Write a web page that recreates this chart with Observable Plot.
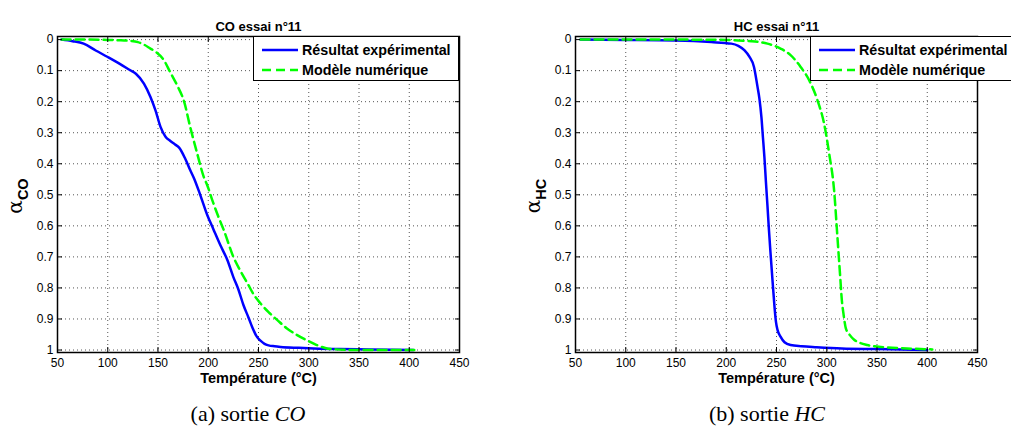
<!DOCTYPE html>
<html>
<head>
<meta charset="utf-8">
<script src="https://cdn.jsdelivr.net/npm/d3@7"></script>
<script src="https://cdn.jsdelivr.net/npm/@observablehq/plot@0.6"></script>
<style>
  html, body { margin: 0; padding: 0; background: #fff; }
  #root { position: relative; width: 1011px; height: 428px; overflow: hidden; background: #fff; font-family: "Liberation Sans", Arial, sans-serif; }
  .panel { position: absolute; top: 0; }
  .legend { position: absolute; background: #fff; border: 1.5px solid #000; box-sizing: border-box; }
  .legend .row { position: absolute; left: 0; height: 20px; }
  .legend .row svg { position: absolute; left: 7px; top: 0; }
  .legend .row span { position: absolute; left: 48px; top: 1px; font: bold 14.3px "Liberation Sans", Arial, sans-serif; white-space: nowrap; line-height: 18px; }
  .ylab { position: absolute; transform: translate(-50%, -50%) rotate(-90deg); white-space: nowrap; line-height: 1; }
  .ylab .a { font: 20px "DejaVu Serif", serif; }
  .ylab sub { font: bold 14.5px "Liberation Sans", Arial, sans-serif; vertical-align: -6px; }
  .caption { position: absolute; transform: translate(-50%, -50%); font: 22px "Liberation Serif", "DejaVu Serif", serif; line-height: 22px; white-space: nowrap; }
</style>
</head>
<body>
<div id="root"></div>
<script>
// ---- Data ----
const xTicks = [50, 100, 150, 200, 250, 300, 350, 400, 450];
const yTicks = [0, 0.1, 0.2, 0.3, 0.4, 0.5, 0.6, 0.7, 0.8, 0.9, 1];
const seriesNames = ["Résultat expérimental", "Modèle numérique"];

const coTempExp  = [54, 65, 76, 88, 100, 112, 122, 128, 136, 142.5, 147.5, 152.5, 157.5, 162, 167, 171, 177, 182, 186, 192, 199, 205, 212, 219, 225, 230, 235, 240, 244, 248, 252, 256, 260, 266, 272, 290, 305, 330, 360, 404];
const coAlphaExp = [0, 0.005, 0.013, 0.035, 0.056, 0.078, 0.098, 0.11, 0.142, 0.185, 0.228, 0.281, 0.313, 0.326, 0.338, 0.348, 0.383, 0.42, 0.448, 0.50, 0.565, 0.61, 0.662, 0.71, 0.765, 0.805, 0.855, 0.895, 0.928, 0.955, 0.970, 0.980, 0.985, 0.988, 0.990, 0.993, 0.995, 0.997, 0.998, 1.0];

const coTempMod  = [54, 80, 100, 110, 122, 130, 136, 142.5, 148, 156, 162, 169, 176, 182, 189, 195.5, 199, 204, 210, 215.5, 225, 232, 239, 245, 252, 260, 268.5, 278, 288.5, 300, 308, 315, 322, 350, 380, 405];
const coAlphaMod = [0, 0, 0.001, 0.002, 0.004, 0.008, 0.016, 0.029, 0.04, 0.067, 0.104, 0.147, 0.20, 0.281, 0.367, 0.442, 0.469, 0.517, 0.57, 0.614, 0.70, 0.745, 0.785, 0.82, 0.85, 0.878, 0.903, 0.93, 0.952, 0.972, 0.984, 0.992, 0.997, 1.0, 1.0, 1.0];

const hcTempExp  = [55, 100, 150, 185, 205, 212, 218, 223, 227.6, 231, 233, 235, 236.5, 238, 239.5, 241, 242.5, 244, 246, 248, 249.5, 251, 254, 258, 264, 275, 290, 315, 350, 400];
const hcAlphaExp = [0, 0.001, 0.003, 0.008, 0.013, 0.02, 0.034, 0.055, 0.088, 0.15, 0.19, 0.25, 0.315, 0.38, 0.46, 0.535, 0.614, 0.685, 0.775, 0.86, 0.91, 0.935, 0.957, 0.975, 0.984, 0.988, 0.991, 0.995, 0.997, 1.0];

const hcTempMod  = [55, 150, 200, 212, 225, 241, 254, 264, 274, 282.5, 290.7, 297.3, 302.4, 307.3, 310.6, 313.3, 315, 316.6, 319, 323, 327, 333, 340.5, 357, 380, 405];
const hcAlphaMod = [0, 0, 0.001, 0.003, 0.005, 0.013, 0.029, 0.05, 0.088, 0.131, 0.195, 0.27, 0.367, 0.485, 0.635, 0.76, 0.839, 0.882, 0.930, 0.952, 0.966, 0.977, 0.984, 0.991, 0.995, 0.998];

const zipSeries = (t, a) => t.map((x, i) => ({T: x, alpha: a[i]}));

const root = document.getElementById("root");

function panel({left, width, mLeft, mRight, title, exp, mod, gas, caption, capItalic, capX, legendLeft, ylabX}) {
  const div = document.createElement("div");
  div.className = "panel";
  div.style.left = left + "px";
  const fmt = d => String(+d.toFixed(1));
  const tickStyle = {stroke: "#000", strokeWidth: 1};
  const chart = Plot.plot({
    width, height: 395,
    marginTop: 36, marginBottom: 43, marginLeft: mLeft, marginRight: mRight,
    style: {fontFamily: "'Liberation Sans', Arial, sans-serif", fontSize: "12px", color: "#000", background: "transparent"},
    x: {domain: [50, 450], label: null},
    y: {domain: [-0.01, 1.008], reverse: true, label: null},
    marks: [
      Plot.gridX({ticks: xTicks, stroke: "#555", strokeOpacity: 1, strokeWidth: 1, strokeDasharray: "1,3"}),
      Plot.gridY({ticks: yTicks, stroke: "#555", strokeOpacity: 1, strokeWidth: 1, strokeDasharray: "1,3"}),
      Plot.line(exp, {x: "T", y: "alpha", stroke: "#0000ff", strokeWidth: 2.5, curve: "monotone-x"}),
      Plot.line(mod, {x: "T", y: "alpha", stroke: "#00ff00", strokeWidth: 2.5, strokeDasharray: "9,5", curve: "monotone-x"}),
      Plot.frame({stroke: "#000", strokeWidth: 1.5}),
      Plot.axisX({ticks: xTicks, anchor: "bottom", tickSize: 0, tickPadding: 6, label: null, fontSize: 12}),
      Plot.axisY({ticks: yTicks, anchor: "left", tickSize: 0, tickPadding: 4, label: null, fontSize: 12, tickFormat: fmt}),
      Plot.axisX({ticks: xTicks, anchor: "bottom", tickSize: 5, dy: -5, label: null, tickFormat: () => "", ...tickStyle}),
      Plot.axisX({ticks: xTicks, anchor: "top", tickSize: 5, dy: 5, label: null, tickFormat: () => "", ...tickStyle}),
      Plot.axisY({ticks: yTicks, anchor: "left", tickSize: 5, dx: 5, label: null, tickFormat: () => "", ...tickStyle}),
      Plot.axisY({ticks: yTicks, anchor: "right", tickSize: 5, dx: -5, label: null, tickFormat: () => "", ...tickStyle}),
      Plot.text([title], {text: d => d, frameAnchor: "top", dy: -15, fontWeight: "bold", fontSize: 13}),
      Plot.text(["Température (°C)"], {text: d => d, frameAnchor: "bottom", dy: 30, fontWeight: "bold", fontSize: 14.5})
    ]
  });
  div.appendChild(chart);
  root.appendChild(div);

  // legend
  const lg = document.createElement("div");
  lg.className = "legend";
  lg.style.left = legendLeft + "px";
  lg.style.top = "36px";
  lg.style.width = "206px";
  lg.style.height = "45px";
  const styles = [
    {stroke: "#0000ff", dash: null},
    {stroke: "#00ff00", dash: "9,5"}
  ];
  seriesNames.forEach((name, i) => {
    const row = document.createElement("div");
    row.className = "row";
    row.style.top = (3 + i * 20) + "px";
    row.style.width = "100%";
    row.innerHTML = `<svg width="38" height="20"><line x1="1" x2="37" y1="10" y2="10" stroke="${styles[i].stroke}" stroke-width="2.5" ${styles[i].dash ? `stroke-dasharray="${styles[i].dash}"` : ""}/></svg><span>${name}</span>`;
    lg.appendChild(row);
  });
  root.appendChild(lg);

  // y label
  const yl = document.createElement("div");
  yl.className = "ylab";
  yl.style.left = ylabX + "px";
  yl.style.top = "196px";
  yl.innerHTML = `<span class="a">α</span><sub>${gas}</sub>`;
  root.appendChild(yl);

  // caption
  const cap = document.createElement("div");
  cap.className = "caption";
  cap.style.left = capX + "px";
  cap.style.top = "414px";
  cap.innerHTML = `${caption} <i>${capItalic}</i>`;
  root.appendChild(cap);
}

panel({left: 0, width: 505, mLeft: 57, mRight: 46, title: "CO essai n°11",
  exp: zipSeries(coTempExp, coAlphaExp), mod: zipSeries(coTempMod, coAlphaMod),
  gas: "CO", caption: "(a) sortie", capItalic: "CO", capX: 248, legendLeft: 253, ylabX: 17});
panel({left: 505, width: 506, mLeft: 70, mRight: 34, title: "HC essai n°11",
  exp: zipSeries(hcTempExp, hcAlphaExp), mod: zipSeries(hcTempMod, hcAlphaMod),
  gas: "HC", caption: "(b) sortie", capItalic: "HC", capX: 767, legendLeft: 810, ylabX: 535});
</script>
</body>
</html>
